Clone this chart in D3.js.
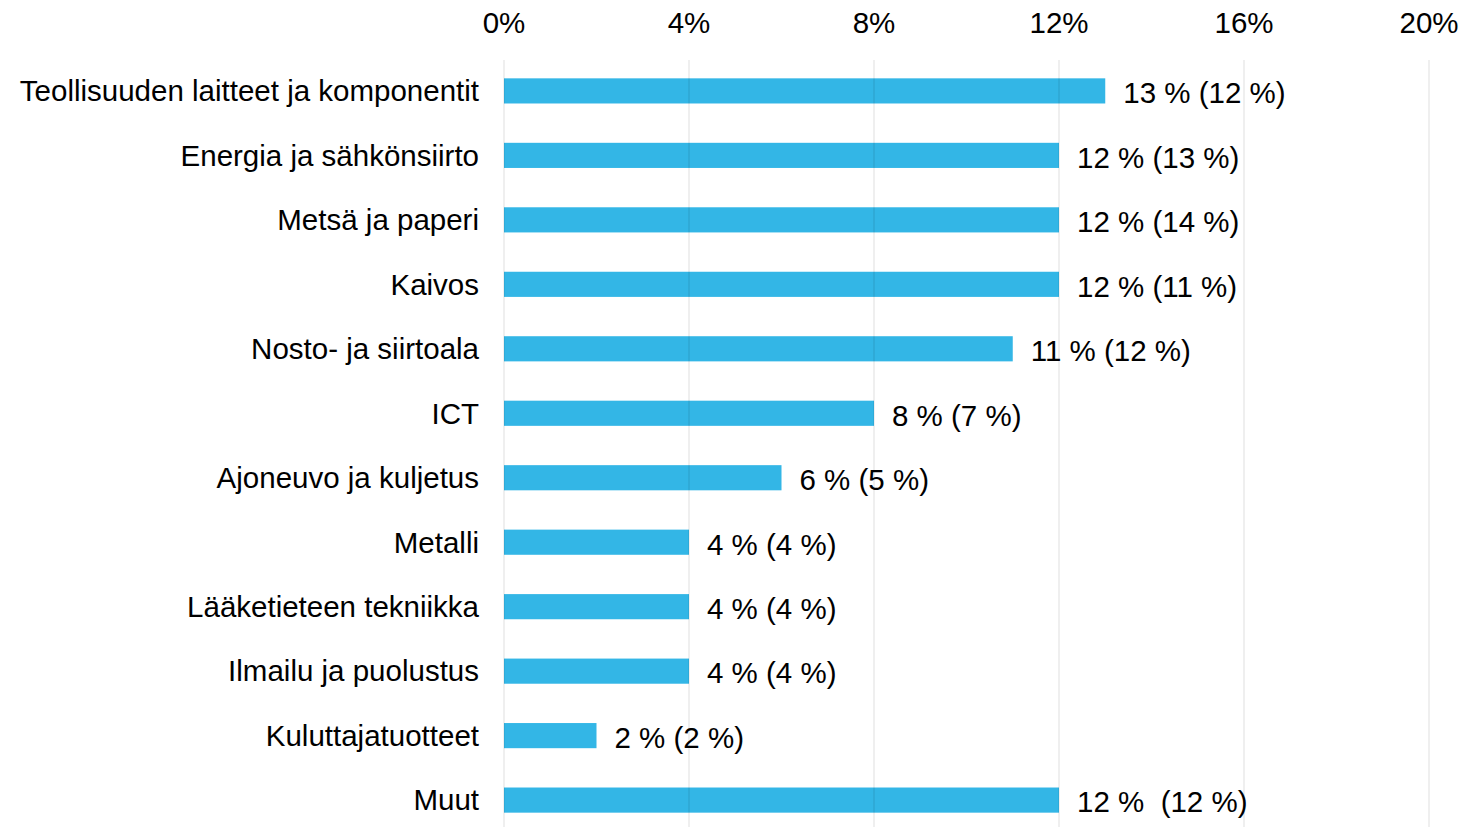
<!DOCTYPE html>
<html>
<head>
<meta charset="utf-8">
<script src="https://cdn.jsdelivr.net/npm/d3@7"></script>
<style>
  body { margin: 0; background: #fff; }
  svg text { font-family: "Liberation Sans", Arial, sans-serif; fill: #000; }
</style>
</head>
<body>
<svg width="1468" height="827"></svg>
<script>
const categories = [
  "Teollisuuden laitteet ja komponentit",
  "Energia ja sähkönsiirto",
  "Metsä ja paperi",
  "Kaivos",
  "Nosto- ja siirtoala",
  "ICT",
  "Ajoneuvo ja kuljetus",
  "Metalli",
  "Lääketieteen tekniikka",
  "Ilmailu ja puolustus",
  "Kuluttajatuotteet",
  "Muut"
];
const current = [13, 12, 12, 12, 11, 8, 6, 4, 4, 4, 2, 12];
const previous = [12, 13, 14, 11, 12, 7, 5, 4, 4, 4, 2, 12];
const ticks = [0, 4, 8, 12, 16, 20];

const svg = d3.select("svg");
const fontSize = 29.5;

const x = d3.scaleLinear().domain([0, 20]).range([504, 1429]);
const y = d3.scaleBand().domain(categories).range([59, 832]).paddingInner(0.61).paddingOuter(0.3);

// palkit
svg.append("g")
  .selectAll("rect")
  .data(categories)
  .join("rect")
  .attr("x", x(0))
  .attr("y", d => y(d))
  .attr("width", (d, i) => x(current[i]) - x(0))
  .attr("height", y.bandwidth())
  .attr("fill", "#33b6e6");

// ruudukko päälle, haalea
svg.append("g")
  .selectAll("line")
  .data(ticks)
  .join("line")
  .attr("x1", d => x(d)).attr("x2", d => x(d))
  .attr("y1", 60).attr("y2", 827)
  .attr("stroke", "rgba(0,0,0,0.13)")
  .attr("stroke-width", 1);

// akselin tekstit ylhäällä
svg.append("g")
  .selectAll("text")
  .data(ticks)
  .join("text")
  .attr("x", d => x(d))
  .attr("y", 33)
  .attr("text-anchor", "middle")
  .attr("font-size", fontSize)
  .text(d => d + "%");

// kategoriat
svg.append("g")
  .selectAll("text")
  .data(categories)
  .join("text")
  .attr("x", 479)
  .attr("y", d => y(d) + y.bandwidth() / 2)
  .attr("dy", "0.35em")
  .attr("text-anchor", "end")
  .attr("font-size", fontSize)
  .text(d => d);

// arvot
svg.append("g")
  .selectAll("text")
  .data(categories)
  .join("text")
  .attr("x", (d, i) => x(current[i]) + 18)
  .attr("y", d => y(d) + y.bandwidth() / 2 + 2)
  .attr("dy", "0.35em")
  .attr("font-size", fontSize)
  .attr("xml:space", "preserve")
  .style("white-space", "pre")
  .text((d, i) => `${current[i]} %${i === categories.length - 1 ? "  " : " "}(${previous[i]} %)`);
</script>
</body>
</html>
